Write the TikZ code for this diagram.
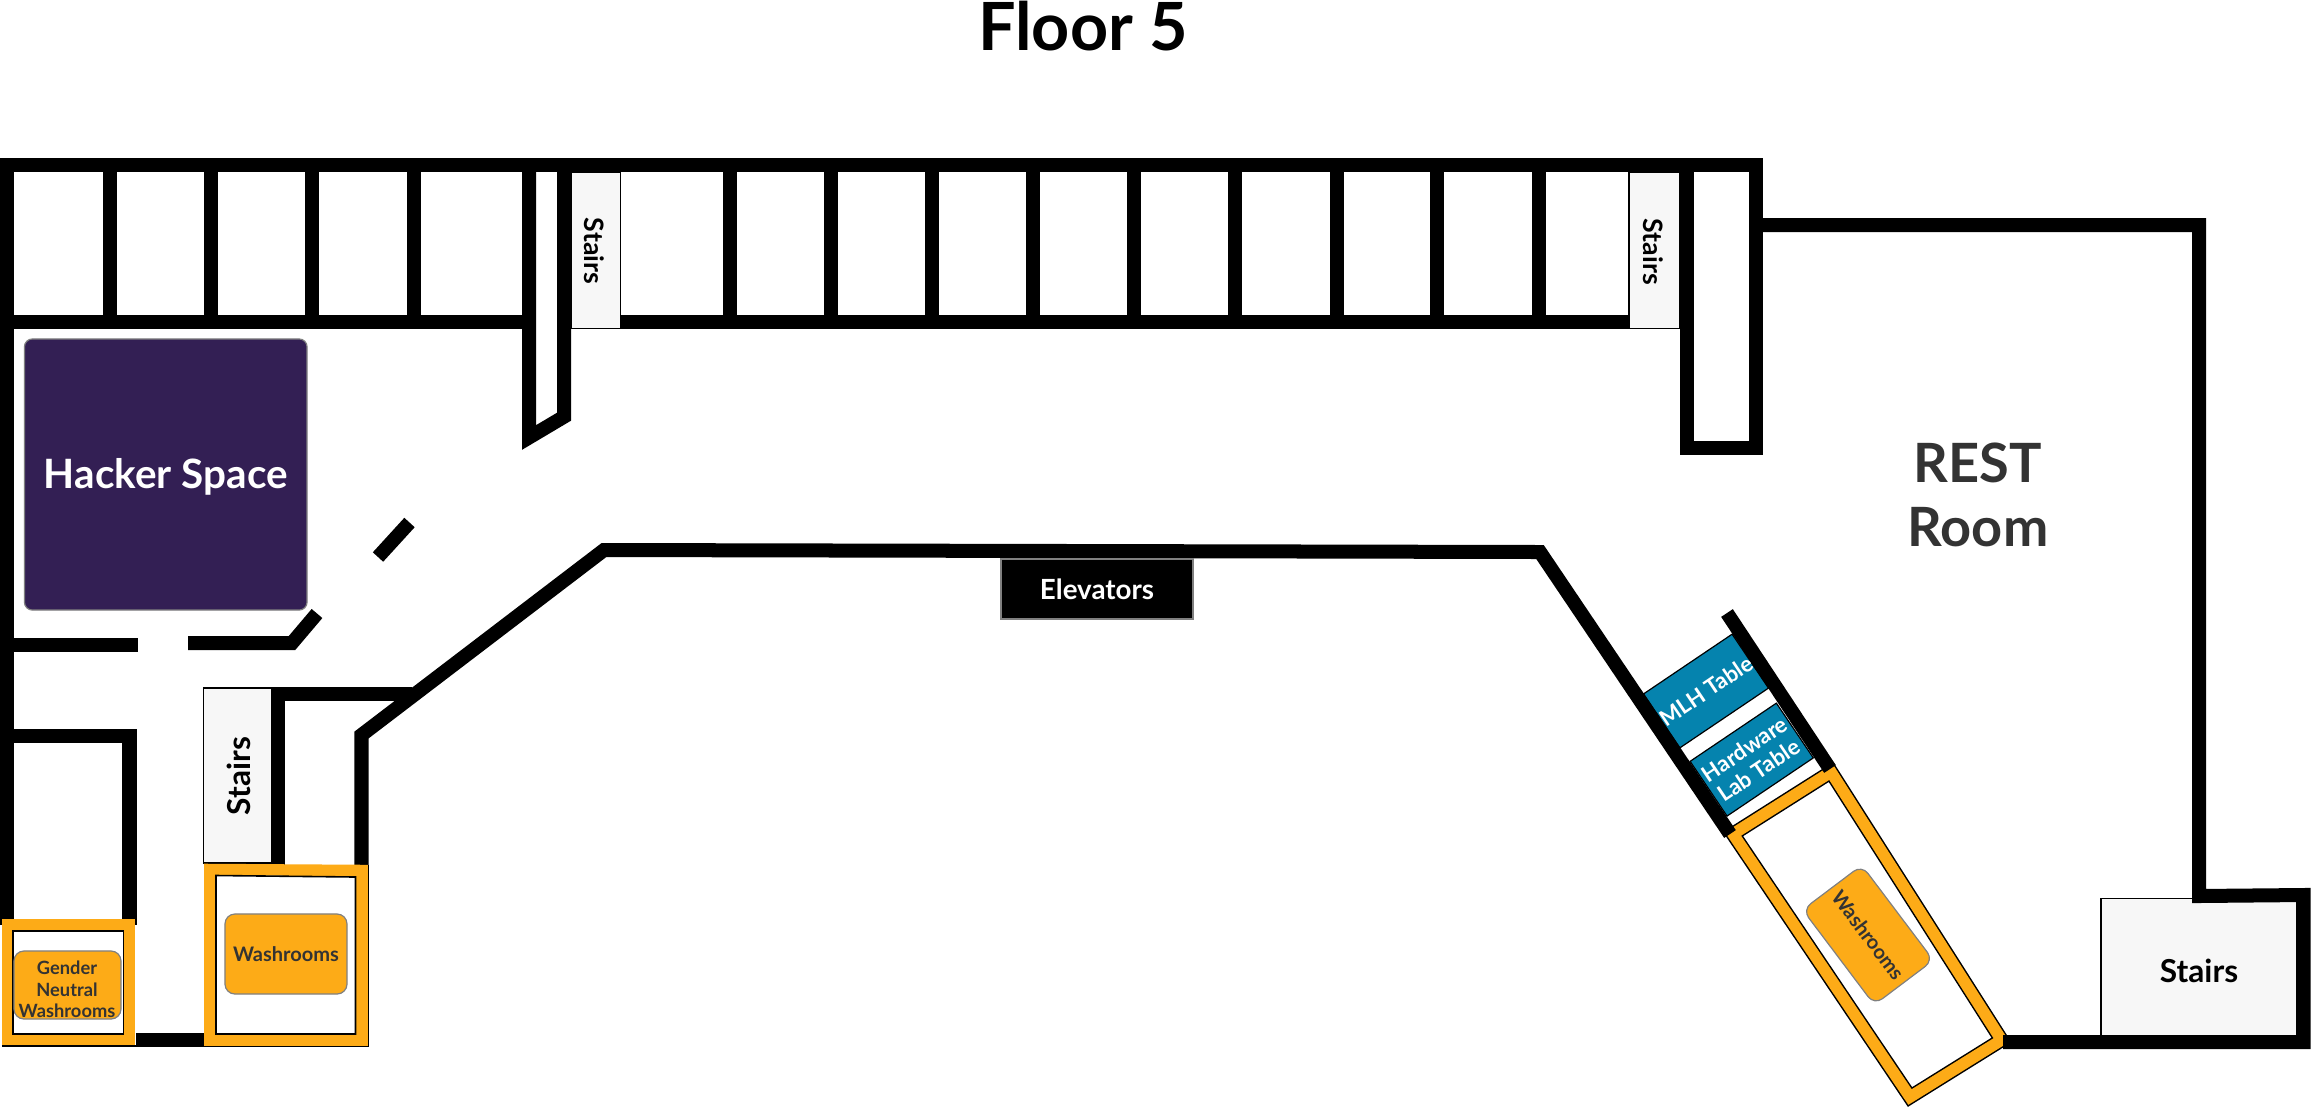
\documentclass[tikz,border=0pt]{standalone}
\usepackage{fontspec}
\setmainfont{Lato}
\definecolor{hackpurple}{HTML}{331F54}
\definecolor{washorange}{HTML}{FDAB17}
\definecolor{tableblue}{HTML}{0583AE}
\definecolor{stairgray}{HTML}{F7F7F7}
\definecolor{labelgray}{HTML}{333333}
\begin{document}
\begin{tikzpicture}[
  x=0.01cm, y=-0.01cm,
  wall/.style={draw=black, line width=0.14cm},
  washline/.style={draw=black, line width=0.145cm},
  washband/.style={draw=washorange, line width=0.115cm},
  washinner/.style={draw=black, line width=0.016cm},
  stairbox/.style={draw=black, fill=stairgray, line width=0.015cm},
  stairlabel/.style={font=\fontsize{9}{10}\selectfont\bfseries, text=black},
  stairlabelsmall/.style={font=\fontsize{7.6}{9}\selectfont\bfseries, text=black},
  washbox/.style={draw=gray, fill=washorange, rounded corners=0.1cm, line width=0.012cm,
    inner sep=0pt, text=labelgray, align=center, font=\fontsize{5.7}{6.1}\selectfont\bfseries},
  tablebox/.style={draw=black, fill=tableblue, line width=0.012cm, inner sep=0pt,
    text=white, align=center, font=\fontsize{6.3}{7.2}\selectfont\bfseries}
]
\useasboundingbox (0,0) rectangle (2311,1108);
\node[font=\fontsize{18.9}{22}\selectfont\bfseries] (title) at (1083,26) {Floor 5};
\node[draw=gray, fill=hackpurple, rounded corners=0.08cm, line width=0.012cm, minimum width=2.825cm,
  minimum height=2.71cm, inner sep=0pt, text=white, text height=0.28cm, text depth=0pt,
  font=\fontsize{11.5}{13}\selectfont\bfseries] (hacker) at (165.75,474.5) {Hacker Space};
\node[tablebox, rotate=34, minimum width=1.06cm, minimum height=0.65cm] (mlh) at (1706,691) {MLH Table};
\node[tablebox, rotate=34, minimum width=1.04cm, minimum height=0.66cm] (hardware) at (1751.7,759.6) {Hardware\\Lab Table};
\draw[stairbox] (203.7,688) rectangle (271.4,863);
\draw[stairbox] (571.4,172) rectangle (620.5,328.5);
\draw[stairbox] (1629,172) rectangle (1680,328.5);
\draw[stairbox] (2101,898.7) rectangle (2297,1040);
\draw[washline] (1733,834) -- (1831,772) -- (2001.5,1040) -- (1910,1097) -- cycle;
\draw[washband] (1733,834) -- (1831,772) -- (2001.5,1040) -- (1910,1097) -- cycle;
\draw[wall] (7,925) -- (7,165) -- (1756,165) -- (1756,447.5) -- (1687,447.5) -- (1687,165);
\draw[wall] (7,322) -- (529,322);
\draw[wall] (620.5,322) -- (1629,322);
\draw[wall] (110,165) -- (110,322);
\draw[wall] (211,165) -- (211,322);
\draw[wall] (312.4,165) -- (312.4,322);
\draw[wall] (413.6,165) -- (413.6,322);
\draw[wall] (529,165) -- (529,437.5) -- (564,416.7) -- (564,165);
\draw[wall] (730,165) -- (730,322);
\draw[wall] (831,165) -- (831,322);
\draw[wall] (932,165) -- (932,322);
\draw[wall] (1033,165) -- (1033,322);
\draw[wall] (1134,165) -- (1134,322);
\draw[wall] (1235,165) -- (1235,322);
\draw[wall] (1337,165) -- (1337,322);
\draw[wall] (1437,165) -- (1437,322);
\draw[wall] (1539,165) -- (1539,322);
\draw[wall] (409.5,522.5) -- (378,557);
\draw[wall] (7,645) -- (138,645);
\draw[wall] (188,643) -- (292,643) -- (317,613.5);
\draw[wall] (7,736) -- (129.5,736) -- (129.5,925);
\draw[wall] (136,1040) -- (205,1040);
\draw[wall] (278,870) -- (278,693.5) -- (412,693.5);
\draw[wall] (361.5,870) -- (361.5,735) -- (604,550) -- (1540,552) -- (1730,834);
\draw[wall] (1727,613) -- (1830,769);
\draw[wall] (1756,225) -- (2199,225) -- (2199,896) -- (2303.5,895) -- (2303.5,1042) -- (2003,1042);
\draw[washband] (7.5,925) -- (129.5,925) -- (129.5,1040) -- (7.5,1040) -- cycle;
\draw[washinner] (13,931) -- (123.5,931) -- (123.5,1034) -- (13,1034) -- cycle;
\draw[washinner] (2,1046) -- (136,1046);
\draw[washband] (210,869.5) -- (362,870.5) -- (362,1040) -- (210,1040) -- cycle;
\draw[washinner] (216,875.5) -- (355.5,877) -- (355.5,1034) -- (216,1034) -- cycle;
\draw[washinner] (204,1046.5) -- (368.3,1046.5) -- (368.3,865);
\node[washbox, minimum width=1.07cm, minimum height=0.68cm] (genderbox) at (67.5,985) {};
\node[text=labelgray, align=center, font=\fontsize{5.2}{6.1}\selectfont\bfseries] (gender) at (67,989.5) {Gender\\Neutral\\Washrooms};
\node[washbox, minimum width=1.22cm, minimum height=0.80cm] (wash) at (286,954) {Washrooms};
\node[washbox, rotate=-53, minimum width=1.19cm, minimum height=0.74cm] (washeast) at (1868,935) {Washrooms};
\node[stairlabel, rotate=90] (stairsa) at (239,776) {Stairs};
\node[stairlabelsmall, rotate=-90] (stairsb) at (594.6,251) {Stairs};
\node[stairlabelsmall, rotate=-90] (stairsc) at (1653.7,251.7) {Stairs};
\node[stairlabel] (stairsd) at (2199,970.7) {Stairs};
\node[draw=gray, fill=black, line width=0.02cm, minimum width=1.92cm, minimum height=0.6cm, inner sep=0pt,
  text=white, font=\fontsize{7.9}{9}\selectfont\bfseries] (elevators) at (1097,589) {Elevators};
\node[text=labelgray, align=center, font=\fontsize{15.4}{18}\selectfont\bfseries] (rest) at (1978,495) {REST\\Room};
\end{tikzpicture}
\end{document}
